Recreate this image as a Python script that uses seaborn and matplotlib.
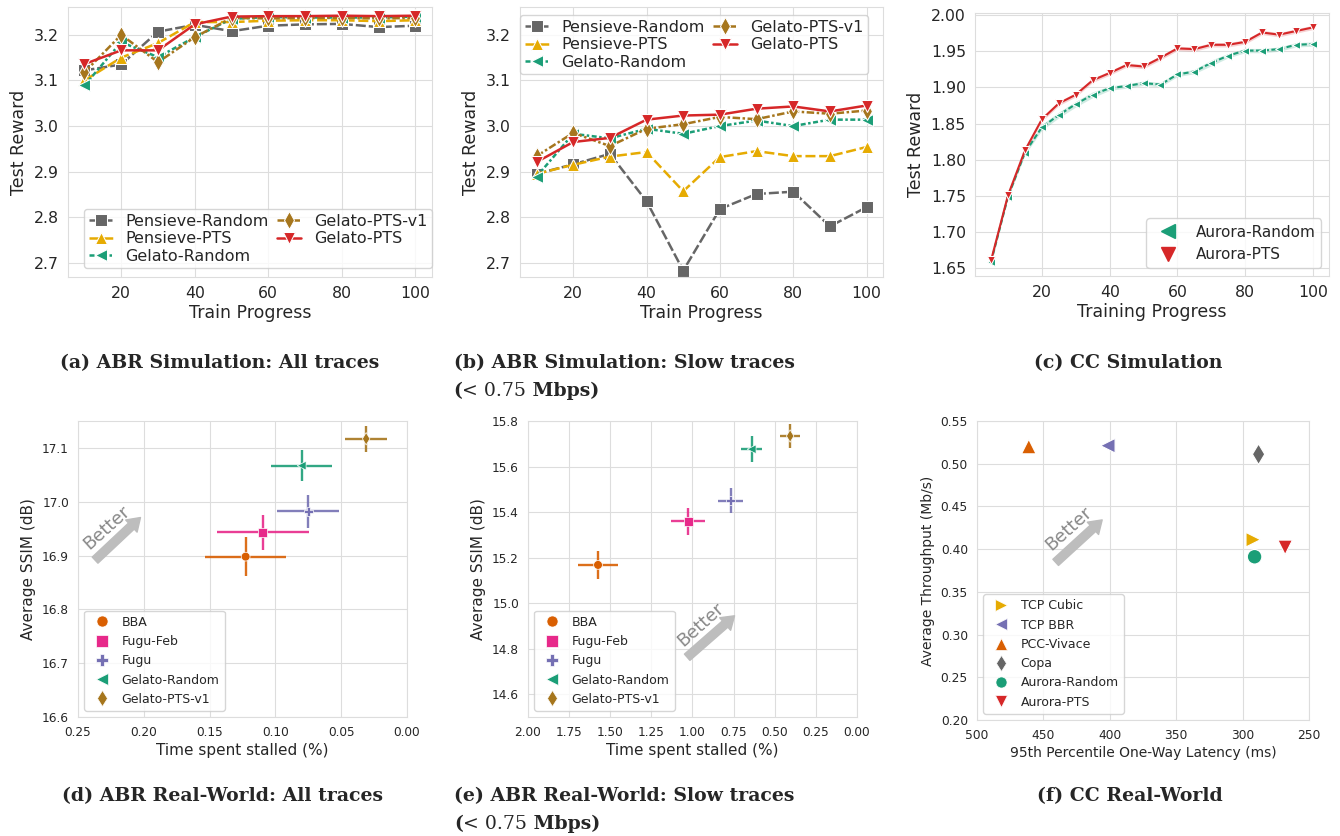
import matplotlib
matplotlib.use("Agg")
import matplotlib.pyplot as plt
from matplotlib.lines import Line2D
import numpy as np
import pandas as pd
import seaborn as sns

# ---------------- training curves (ABR simulation) ----------------
progress = [10, 20, 30, 40, 50, 60, 70, 80, 90, 100]
abr_methods = ["Pensieve-Random", "Pensieve-PTS", "Gelato-Random", "Gelato-PTS-v1", "Gelato-PTS"]

all_pensieve_random = [3.122, 3.135, 3.207, 3.222, 3.208, 3.220, 3.223, 3.224, 3.217, 3.220]
all_pensieve_pts    = [3.100, 3.150, 3.182, 3.228, 3.228, 3.231, 3.232, 3.232, 3.230, 3.232]
all_gelato_random   = [3.089, 3.184, 3.151, 3.195, 3.235, 3.239, 3.238, 3.238, 3.238, 3.240]
all_gelato_pts_v1   = [3.118, 3.200, 3.140, 3.195, 3.237, 3.236, 3.237, 3.237, 3.236, 3.237]
all_gelato_pts      = [3.136, 3.166, 3.166, 3.223, 3.240, 3.241, 3.241, 3.242, 3.241, 3.242]

slow_pensieve_random = [2.895, 2.916, 2.939, 2.835, 2.683, 2.818, 2.851, 2.856, 2.780, 2.822]
slow_pensieve_pts    = [2.895, 2.915, 2.933, 2.943, 2.857, 2.932, 2.945, 2.934, 2.934, 2.954]
slow_gelato_random   = [2.889, 2.983, 2.973, 2.994, 2.983, 3.000, 3.012, 3.000, 3.014, 3.014]
slow_gelato_pts_v1   = [2.934, 2.985, 2.956, 2.994, 3.004, 3.020, 3.015, 3.032, 3.027, 3.034]
slow_gelato_pts      = [2.921, 2.965, 2.974, 3.014, 3.023, 3.025, 3.038, 3.043, 3.032, 3.045]

# ---------------- training curves (CC simulation) ----------------
cc_progress = [5, 10, 15, 20, 25, 30, 35, 40, 45, 50, 55, 60, 65, 70, 75, 80, 85, 90, 95, 100]
aurora_random_reward = [1.659, 1.749, 1.810, 1.845, 1.862, 1.877, 1.890, 1.899, 1.902, 1.906,
                        1.904, 1.918, 1.922, 1.934, 1.944, 1.951, 1.951, 1.953, 1.959, 1.960]
aurora_random_ci = [0.002, 0.002, 0.003, 0.004, 0.004, 0.004, 0.004, 0.003, 0.003, 0.003,
                    0.003, 0.003, 0.003, 0.004, 0.003, 0.003, 0.003, 0.003, 0.003, 0.003]
aurora_pts_reward = [1.661, 1.751, 1.813, 1.856, 1.878, 1.890, 1.910, 1.920, 1.931, 1.929,
                     1.941, 1.954, 1.953, 1.959, 1.959, 1.963, 1.976, 1.973, 1.978, 1.983]
aurora_pts_ci = [0.002, 0.002, 0.003, 0.003, 0.003, 0.003, 0.003, 0.003, 0.003, 0.003,
                 0.003, 0.003, 0.003, 0.003, 0.003, 0.003, 0.003, 0.003, 0.003, 0.003]

# ---------------- real-world ABR ----------------
rw_methods = ["BBA", "Fugu-Feb", "Fugu", "Gelato-Random", "Gelato-PTS-v1"]
all_stall     = [0.1226, 0.1096, 0.0749, 0.0800, 0.0310]
all_stall_err = [0.0305, 0.0350, 0.0235, 0.0230, 0.0160]
all_ssim      = [16.898, 16.943, 16.982, 17.067, 17.117]
all_ssim_err  = [0.036, 0.032, 0.030, 0.029, 0.024]

slow_stall     = [1.574, 1.025, 0.768, 0.640, 0.406]
slow_stall_err = [0.122, 0.104, 0.074, 0.063, 0.061]
slow_ssim      = [15.168, 15.359, 15.450, 15.676, 15.734]
slow_ssim_err  = [0.061, 0.059, 0.056, 0.058, 0.053]

# ---------------- real-world CC ----------------
cc_schemes = ["TCP Cubic", "TCP BBR", "PCC-Vivace", "Copa", "Aurora-Random", "Aurora-PTS"]
cc_latency = [292, 401.5, 461, 288, 291, 268]
cc_throughput = [0.411, 0.521, 0.520, 0.511, 0.391, 0.402]

# ---------------- styling ----------------
GRAY, YELLOW, GREEN, BROWN, RED = "#666666", "#e6ab02", "#1b9e77", "#a6761d", "#d62728"
ORANGE, PINK, PURPLE = "#d95f02", "#e7298a", "#7570b3"

abr_palette = dict(zip(abr_methods, [GRAY, YELLOW, GREEN, BROWN, RED]))
abr_markers = dict(zip(abr_methods, ["s", "^", "<", "d", "v"]))
abr_dashes = dict(zip(abr_methods, [(4, 1.2), (4, 1.5), (2, 1, 1, 1), (3, 1, 1, 1), ""]))

rw_palette = dict(zip(rw_methods, [ORANGE, PINK, PURPLE, GREEN, BROWN]))
rw_markers = dict(zip(rw_methods, ["o", "s", "P", "<", "d"]))

cc_palette = dict(zip(cc_schemes, [YELLOW, PURPLE, ORANGE, GRAY, GREEN, RED]))
cc_markers = dict(zip(cc_schemes, [">", "<", "^", "d", "o", "v"]))

sns.set_style("whitegrid")
plt.rcParams["font.family"] = ["DejaVu Sans"]
plt.rcParams["axes.edgecolor"] = "#dddddd"
plt.rcParams["grid.color"] = "#dddddd"

fig = plt.figure(figsize=(13.4, 8.36), dpi=100)

ax_a = fig.add_axes([0.0507, 0.6687, 0.2716, 0.3229])
ax_b = fig.add_axes([0.3881, 0.6687, 0.2709, 0.3229])
ax_c = fig.add_axes([0.7276, 0.6699, 0.2642, 0.3146])
ax_d = fig.add_axes([0.0582, 0.1423, 0.2455, 0.3541])
ax_e = fig.add_axes([0.3940, 0.1423, 0.2455, 0.3541])
ax_f = fig.add_axes([0.7291, 0.1388, 0.2478, 0.3577])


def training_frame(series):
    return pd.DataFrame({
        "progress": progress * len(abr_methods),
        "reward": [v for s in series for v in s],
        "method": np.repeat(abr_methods, len(progress)),
    })


def draw_training(ax, series, legend_kw):
    df = training_frame(series)
    sns.lineplot(data=df, x="progress", y="reward", hue="method", style="method",
                 hue_order=abr_methods, style_order=abr_methods,
                 palette=abr_palette, markers=abr_markers, dashes=abr_dashes,
                 markersize=9, linewidth=1.8, ax=ax)
    ax.set_ylim(2.669, 3.261)
    ax.set_xticks([20, 40, 60, 80, 100])
    ax.set_yticks([2.7, 2.8, 2.9, 3.0, 3.1, 3.2])
    ax.tick_params(labelsize=11.3, pad=3)
    ax.set_xlabel("Train Progress", fontsize=12.5, labelpad=2)
    ax.set_ylabel("Test Reward", fontsize=12.5, labelpad=4)
    old = ax.get_legend()
    handles = old.legend_handles
    labels = [t.get_text() for t in old.texts]
    ax.legend(handles, labels, ncol=2, fontsize=11.5, handlelength=1.5,
              handletextpad=0.8, columnspacing=0.5, labelspacing=0.15,
              borderpad=0.3, borderaxespad=0, **legend_kw)


draw_training(ax_a, [all_pensieve_random, all_pensieve_pts, all_gelato_random,
                     all_gelato_pts_v1, all_gelato_pts],
              dict(loc="lower right", bbox_to_anchor=(1.0, 0.032)))
draw_training(ax_b, [slow_pensieve_random, slow_pensieve_pts, slow_gelato_random,
                     slow_gelato_pts_v1, slow_gelato_pts],
              dict(loc="upper left", bbox_to_anchor=(0.0, 0.97)))

# (c) CC simulation with confidence bands
for reward, ci, color, marker, ls in [
    (aurora_random_reward, aurora_random_ci, GREEN, "<", (0, (2.5, 1.2))),
    (aurora_pts_reward, aurora_pts_ci, RED, "v", "-"),
]:
    sns.lineplot(x=cc_progress, y=reward, color=color, marker=marker, markersize=6,
                 linewidth=1.5, linestyle=ls, ax=ax_c)
    ax_c.fill_between(cc_progress, np.subtract(reward, ci), np.add(reward, ci),
                      color=color, alpha=0.2, linewidth=0)
ax_c.set_ylim(1.6394, 2.003)
ax_c.set_xticks([20, 40, 60, 80, 100])
ax_c.set_yticks([1.65, 1.70, 1.75, 1.80, 1.85, 1.90, 1.95, 2.00])
ax_c.set_yticklabels([f"{v:.2f}" for v in [1.65, 1.70, 1.75, 1.80, 1.85, 1.90, 1.95, 2.00]])
ax_c.tick_params(labelsize=11.3, pad=3)
ax_c.set_xlabel("Training Progress", fontsize=12.5, labelpad=2)
ax_c.set_ylabel("Test Reward", fontsize=12.5, labelpad=4)
ax_c.legend([Line2D([], [], color=GREEN, marker="<", linestyle="none", markersize=10),
             Line2D([], [], color=RED, marker="v", linestyle="none", markersize=10)],
            ["Aurora-Random", "Aurora-PTS"], loc="lower right", fontsize=11,
            handletextpad=0.8)


def marker_legend(ax, names, palette, markers, size):
    handles = [Line2D([], [], color=palette[n], marker=markers[n], linestyle="none",
                      markersize=size, markeredgecolor="white", markeredgewidth=0.5)
               for n in names]
    ax.legend(handles, names, loc="lower left", fontsize=9, handletextpad=0.6)


def draw_real_world(ax, stall, stall_err, ssim, ssim_err):
    for i, m in enumerate(rw_methods):
        ax.errorbar(stall[i], ssim[i], xerr=stall_err[i], yerr=ssim_err[i], fmt="none",
                    ecolor=rw_palette[m], elinewidth=1.7, capsize=0, alpha=0.9, zorder=2)
    sns.scatterplot(x=stall, y=ssim, hue=rw_methods, style=rw_methods,
                    hue_order=rw_methods, style_order=rw_methods,
                    palette=rw_palette, markers=rw_markers, s=40, zorder=3,
                    legend=False, ax=ax)
    marker_legend(ax, rw_methods, rw_palette, rw_markers, 8)
    ax.tick_params(labelsize=8.7, pad=3)
    ax.set_xlabel("Time spent stalled (%)", fontsize=11, labelpad=3)
    ax.set_ylabel("Average SSIM (dB)", fontsize=11, labelpad=4)


def better_arrow(ax, tail, head, text_xy, fontsize=13):
    ax.annotate("", xy=head, xytext=tail, xycoords="axes fraction",
                textcoords="axes fraction",
                arrowprops=dict(arrowstyle="simple,head_length=0.45,head_width=0.6,tail_width=0.3",
                                color="#bdbdbd", mutation_scale=20, shrinkA=0, shrinkB=0))
    ax.text(*text_xy, "Better", transform=ax.transAxes, rotation=42,
            rotation_mode="anchor", ha="center", va="center", color="#888888",
            fontsize=fontsize)


draw_real_world(ax_d, all_stall, all_stall_err, all_ssim, all_ssim_err)
ax_d.set_xlim(0.25, 0.0)
ax_d.set_ylim(16.6, 17.15)
ax_d.set_xticks([0.25, 0.20, 0.15, 0.10, 0.05, 0.00])
ax_d.set_xticklabels([f"{v:.2f}" for v in [0.25, 0.20, 0.15, 0.10, 0.05, 0.00]])
ax_d.set_yticks([16.6, 16.7, 16.8, 16.9, 17.0, 17.1])
ax_d.set_yticklabels([f"{v:.1f}" for v in [16.6, 16.7, 16.8, 16.9, 17.0, 17.1]])
better_arrow(ax_d, (0.052, 0.530), (0.19, 0.674), (0.087, 0.641))

draw_real_world(ax_e, slow_stall, slow_stall_err, slow_ssim, slow_ssim_err)
ax_e.set_xlim(2.0, 0.0)
ax_e.set_ylim(14.5, 15.8)
ax_e.set_xticks([2.0, 1.75, 1.5, 1.25, 1.0, 0.75, 0.5, 0.25, 0.0])
ax_e.set_xticklabels([f"{v:.2f}" for v in [2.0, 1.75, 1.5, 1.25, 1.0, 0.75, 0.5, 0.25, 0.0]])
ax_e.set_yticks([14.6, 14.8, 15.0, 15.2, 15.4, 15.6, 15.8])
ax_e.set_yticklabels([f"{v:.1f}" for v in [14.6, 14.8, 15.0, 15.2, 15.4, 15.6, 15.8]])
better_arrow(ax_e, (0.484, 0.202), (0.628, 0.342), (0.524, 0.311))

# (f) CC real-world
sns.scatterplot(x=cc_latency, y=cc_throughput, hue=cc_schemes, style=cc_schemes,
                hue_order=cc_schemes, style_order=cc_schemes,
                palette=cc_palette, markers=cc_markers, s=110, legend=False, ax=ax_f)
marker_legend(ax_f, cc_schemes, cc_palette, cc_markers, 8)
ax_f.set_xlim(500, 250)
ax_f.set_ylim(0.20, 0.55)
ax_f.set_xticks([500, 450, 400, 350, 300, 250])
ax_f.set_yticks([0.20, 0.25, 0.30, 0.35, 0.40, 0.45, 0.50, 0.55])
ax_f.set_yticklabels([f"{v:.2f}" for v in [0.20, 0.25, 0.30, 0.35, 0.40, 0.45, 0.50, 0.55]])
ax_f.tick_params(labelsize=8.8, pad=3)
ax_f.set_xlabel("95th Percentile One-Way Latency (ms)", fontsize=10, labelpad=3)
ax_f.set_ylabel("Average Throughput (Mb/s)", fontsize=10, labelpad=4)
better_arrow(ax_f, (0.237, 0.527), (0.377, 0.669), (0.275, 0.639))

# ---------------- sub-captions ----------------
CAP_FONT = dict(fontsize=13.6, family="DejaVu Serif", va="baseline")
W, H = 1340.0, 836.0
renderer = fig.canvas.get_renderer()


def caption(xc, y, text):
    return fig.text(xc / W, 1 - y / H, text, ha="center", fontweight="bold", **CAP_FONT)


def two_line_caption(xc, y1, y2, text):
    first = caption(xc, y1, text)
    x = first.get_window_extent(renderer).x0 / W
    for s, weight in [("(", "bold"), ("< 0.75", "normal"), (" Mbps)", "bold")]:
        t = fig.text(x, 1 - y2 / H, s, ha="left", fontweight=weight, **CAP_FONT)
        x = t.get_window_extent(renderer).x1 / W


caption(220, 368, "(a) ABR Simulation: All traces")
two_line_caption(624, 368, 396, "(b) ABR Simulation: Slow traces")
caption(1128, 368, "(c) CC Simulation")
caption(222, 801, "(d) ABR Real-World: All traces")
two_line_caption(624, 801, 829, "(e) ABR Real-World: Slow traces")
caption(1130, 801, "(f) CC Real-World")

fig.savefig("out.png", dpi=100)
